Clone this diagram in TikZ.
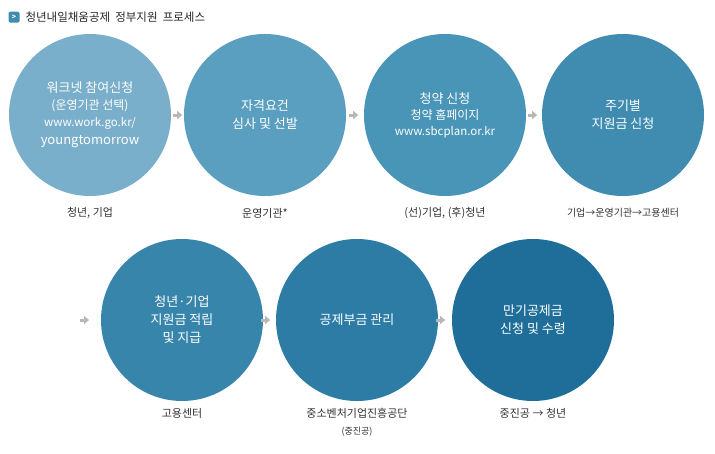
\documentclass[tikz,border=0pt]{standalone}
\usepackage{fontspec}
\usetikzlibrary{arrows.meta}
\setmainfont{Noto Sans CJK KR}
\begin{document}
\begin{tikzpicture}[x=1pt,y=-1pt,
  circ/.style={circle,minimum size=162pt,inner sep=0pt,text=white,align=center,font=\fontsize{13}{18}\selectfont},
  lab/.style={font=\fontsize{11}{13}\selectfont,text=black!80},
  arr/.style={-{Triangle[length=5pt,width=8pt]},line width=3pt,draw=black!28}]
\useasboundingbox[fill=white] (0,0) rectangle (715,453);
\definecolor{c1}{HTML}{7AAFCB}\definecolor{c2}{HTML}{5A9FBF}\definecolor{c3}{HTML}{4895B8}
\definecolor{c4}{HTML}{3F8CB0}\definecolor{c5}{HTML}{3885AB}\definecolor{c6}{HTML}{2C7CA5}\definecolor{c7}{HTML}{1E6E99}
\node[fill=c4,rounded corners=1.5pt,minimum size=11pt,inner sep=0pt,text=white,font=\bfseries\fontsize{7}{7}\selectfont] (ic) at (14,17) {>};
\node[anchor=west,font=\fontsize{11.5}{13}\selectfont,text=black!85] (title) at (22,17) {청년내일채움공제\ \ 정부지원\ \ 프로세스};
\node[circ,fill=c1] (n1) at (90,115) {워크넷 참여신청\\[-1pt]\fontsize{12}{16}\selectfont(운영기관 선택)\\[-1pt]\fontsize{11.5}{15}\selectfont www.work.go.kr/\\youngtomorrow};
\node[circ,fill=c2] (n2) at (265,115) {자격요건\\심사 및 선발};
\node[circ,fill=c3] (n3) at (445,115) {청약 신청\\[-2pt]\fontsize{12}{16}\selectfont 청약 홈페이지\\[-2pt]\fontsize{11.5}{16}\selectfont www.sbcplan.or.kr};
\node[circ,fill=c4] (n4) at (623,115) {주기별\\지원금 신청};
\node[circ,fill=c5] (n5) at (182,320) {청년·기업\\지원금 적립\\및 지급};
\node[circ,fill=c6] (n6) at (357,320) {공제부금 관리};
\node[circ,fill=c7] (n7) at (533,320) {만기공제금\\신청 및 수령};
\node[lab] (l1) at (90,213) {청년, 기업};
\node[lab] (l2) at (265,213) {운영기관*};
\node[lab] (l3) at (445,213) {(선)기업, (후)청년};
\node[lab,font=\fontsize{10}{12}\selectfont] (l4) at (623,213) {기업→운영기관→고용센터};
\node[lab] (l5) at (182,413) {고용센터};
\node[lab] (l6) at (357,413) {중소벤처기업진흥공단};
\node[lab,font=\fontsize{9}{11}\selectfont] (l6b) at (357,432) {(중진공)};
\node[lab] (l7) at (533,413) {중진공 → 청년};
\coordinate (a0) at (80,320);
\draw[arr] (n1.east) ++(2,0) -- ++(9,0);
\draw[arr] (n2.east) ++(3,0) -- ++(9,0);
\draw[arr] (n3.east) ++(2,0) -- ++(9,0);
\draw[arr] (a0) -- ++(9,0);
\draw[arr] (n5.east) ++(-2,0) -- ++(9,0);
\draw[arr] (n6.east) ++(-2,0) -- ++(9,0);
\end{tikzpicture}
\end{document}
